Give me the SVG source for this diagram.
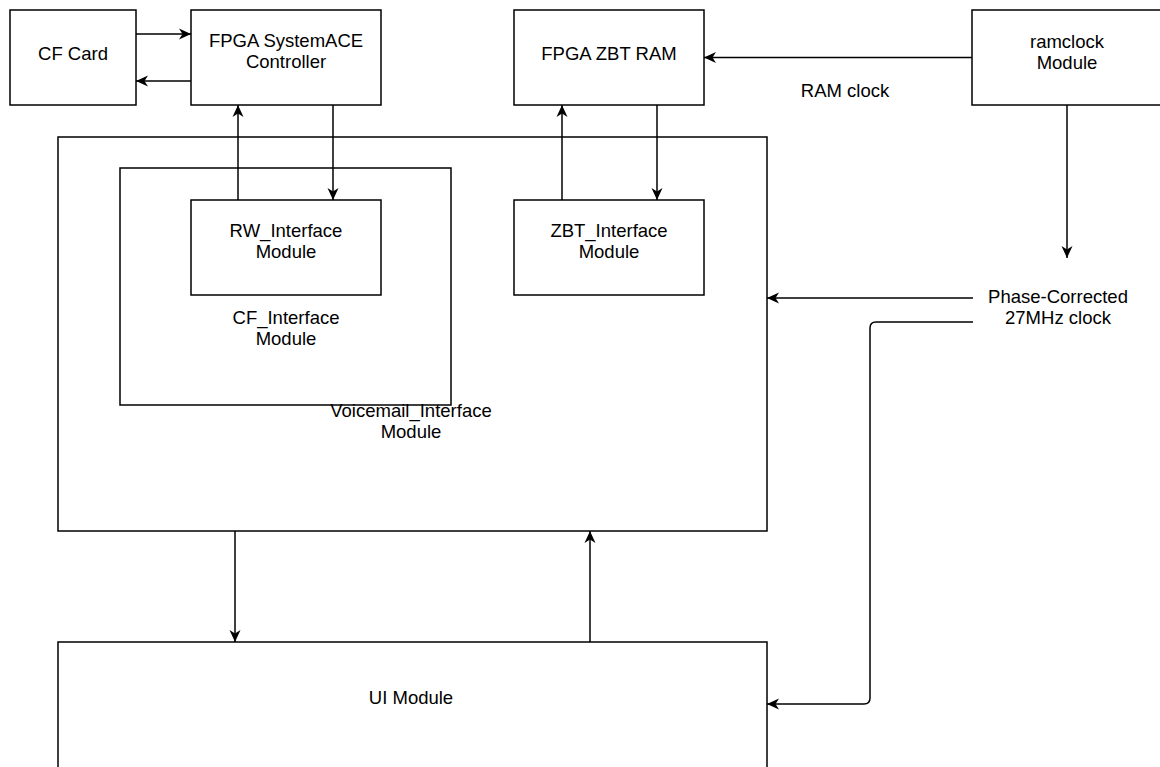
<svg xmlns="http://www.w3.org/2000/svg" width="1160" height="767" viewBox="0 0 1160 767">
<style>
.box{fill:#fff;stroke:#000;stroke-width:1.5}
.t{font-family:"Liberation Sans",Arial,Helvetica,sans-serif;font-size:18.5px;fill:#000;text-anchor:middle}
.c{fill:none;stroke:#000;stroke-width:1.5}
</style>
<defs>
<marker id="ah" markerUnits="userSpaceOnUse" markerWidth="14" markerHeight="12" refX="12" refY="6" orient="auto" viewBox="0 0 14 12">
<path d="M0,0.5 L12,6 L0,11.5 L3.5,6 Z" fill="#000"/>
</marker>
</defs>
<rect width="1160" height="767" fill="#fff"/>
<g id="voicemail">
<rect class="box" x="58" y="137" width="709" height="394"/>
</g>
<g id="cf_interface">
<rect class="box" x="120" y="168" width="331" height="237"/>
<text class="t" x="286" y="324">CF_Interface</text>
<text class="t" x="286" y="345">Module</text>
</g>
<g id="voicemail_label">
<text class="t" x="411" y="417">Voicemail_Interface</text>
<text class="t" x="411" y="438">Module</text>
</g>
<g id="cf_card">
<rect class="box" x="10" y="10" width="126" height="95"/>
<text class="t" x="73" y="60">CF Card</text>
</g>
<g id="systemace">
<rect class="box" x="191" y="10" width="190" height="95"/>
<text class="t" x="286" y="47">FPGA SystemACE</text>
<text class="t" x="286" y="68">Controller</text>
</g>
<g id="zbt_ram">
<rect class="box" x="514" y="10" width="190" height="95"/>
<text class="t" x="609" y="60">FPGA ZBT RAM</text>
</g>
<g id="ramclock">
<rect class="box" x="972" y="10" width="190" height="95"/>
<text class="t" x="1067" y="48">ramclock</text>
<text class="t" x="1067" y="69">Module</text>
</g>
<g id="rw_interface">
<rect class="box" x="191" y="200" width="190" height="95"/>
<text class="t" x="286" y="237">RW_Interface</text>
<text class="t" x="286" y="258">Module</text>
</g>
<g id="zbt_interface">
<rect class="box" x="514" y="200" width="190" height="95"/>
<text class="t" x="609" y="237">ZBT_Interface</text>
<text class="t" x="609" y="258">Module</text>
</g>
<g id="ui">
<rect class="box" x="58" y="642" width="709" height="140"/>
<text class="t" x="411" y="704">UI Module</text>
</g>
<g id="connectors">
<path class="c" d="M136,34 H191" marker-end="url(#ah)"/>
<path class="c" d="M191,81 H136" marker-end="url(#ah)"/>
<path class="c" d="M238,200 V105" marker-end="url(#ah)"/>
<path class="c" d="M333,105 V200" marker-end="url(#ah)"/>
<path class="c" d="M562,200 V105" marker-end="url(#ah)"/>
<path class="c" d="M657,105 V200" marker-end="url(#ah)"/>
<path class="c" d="M972,57.5 H704" marker-end="url(#ah)"/>
<path class="c" d="M1067,105 V258" marker-end="url(#ah)"/>
<path class="c" d="M973,298 H767" marker-end="url(#ah)"/>
<path class="c" d="M973,322 H876 Q870,322 870,328 V698 Q870,704 864,704 H767" marker-end="url(#ah)"/>
<path class="c" d="M235,531 V642" marker-end="url(#ah)"/>
<path class="c" d="M590,642 V531" marker-end="url(#ah)"/>
</g>
<g id="labels">
<text class="t" x="845" y="97">RAM clock</text>
<text class="t" x="1058" y="303">Phase-Corrected</text>
<text class="t" x="1058" y="324">27MHz clock</text>
</g>
</svg>
